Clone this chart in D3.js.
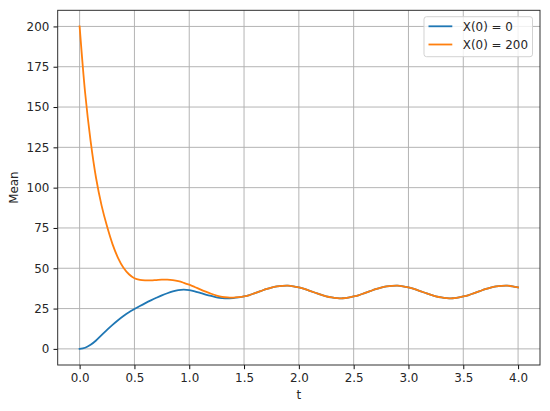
<!DOCTYPE html>
<html>
<head>
<meta charset="utf-8">
<script src="https://cdn.jsdelivr.net/npm/d3@7"></script>
<style>
html,body{margin:0;padding:0;background:#fff;}
text{font-family:"DejaVu Sans",sans-serif;}
</style>
</head>
<body>
<svg id="chart" width="550" height="411"></svg>
<script>
// time samples
const tValues = [0.00,0.05,0.10,0.15,0.20,0.25,0.30,0.35,0.40,0.45,
  0.50,0.55,0.60,0.65,0.70,0.75,0.80,0.85,0.90,0.95,
  1.00,1.05,1.10,1.15,1.20,1.25,1.30,1.35,1.40,1.45,
  1.50,1.55,1.60,1.65,1.70,1.75,1.80,1.85,1.90,1.95,
  2.00,2.05,2.10,2.15,2.20,2.25,2.30,2.35,2.40,2.45,
  2.50,2.55,2.60,2.65,2.70,2.75,2.80,2.85,2.90,2.95,
  3.00,3.05,3.10,3.15,3.20,3.25,3.30,3.35,3.40,3.45,
  3.50,3.55,3.60,3.65,3.70,3.75,3.80,3.85,3.90,3.95,4.00];
// Mean for X(0) = 0
const meanFrom0 = [0.0,0.7,2.5,5.2,8.5,11.8,14.9,17.8,20.4,22.7,
  24.7,26.6,28.4,30.1,31.7,33.2,34.5,35.6,36.4,36.7,
  36.4,35.7,34.7,33.7,32.8,32.0,31.5,31.3,31.5,31.9,
  32.5,33.4,34.6,35.8,37.0,38.0,38.7,39.1,39.2,38.8,
  38.1,37.2,36.0,34.8,33.6,32.6,31.9,31.5,31.4,31.8,
  32.5,33.4,34.6,35.8,37.0,38.0,38.7,39.1,39.2,38.8,
  38.1,37.2,36.0,34.8,33.6,32.6,31.9,31.5,31.4,31.8,
  32.5,33.4,34.6,35.8,37.0,38.0,38.7,39.1,39.2,38.8,38.1];
// Mean for X(0) = 200
const meanFrom200 = [200.0,159.0,129.0,106.0,89.0,76.0,65.0,56.5,50.3,46.3,
  43.8,42.8,42.5,42.5,42.7,42.9,42.9,42.6,42.0,41.0,
  39.8,38.4,36.9,35.5,34.2,33.1,32.3,31.9,31.8,32.1,
  32.6,33.4,34.6,35.8,37.0,38.0,38.7,39.1,39.2,38.8,
  38.1,37.2,36.0,34.8,33.6,32.6,31.9,31.5,31.4,31.8,
  32.5,33.4,34.6,35.8,37.0,38.0,38.7,39.1,39.2,38.8,
  38.1,37.2,36.0,34.8,33.6,32.6,31.9,31.5,31.4,31.8,
  32.5,33.4,34.6,35.8,37.0,38.0,38.7,39.1,39.2,38.8,38.1];
const seriesNames = ["X(0) = 0", "X(0) = 200"];
const seriesColors = ["#1f77b4", "#ff7f0e"];
const xTicks = [0.0,0.5,1.0,1.5,2.0,2.5,3.0,3.5,4.0];
const yTicks = [0,25,50,75,100,125,150,175,200];
const xLabel = "t";
const yLabel = "Mean";

const svg = d3.select("#chart");
const L = 57.7, R = 540, T = 10.3, B = 365;
const fs = 11.9;

const x = d3.scaleLinear().domain([-0.2, 4.2]).range([L, R]);
const y = d3.scaleLinear().domain([-10, 210]).range([B, T]);

// grid
const grid = svg.append("g");
grid.selectAll("line.gx").data(xTicks).enter().append("line")
  .attr("x1", d => x(d)).attr("x2", d => x(d)).attr("y1", T).attr("y2", B)
  .attr("stroke", "#b0b0b0").attr("stroke-width", 0.95);
grid.selectAll("line.gy").data(yTicks).enter().append("line")
  .attr("y1", d => y(d)).attr("y2", d => y(d)).attr("x1", L).attr("x2", R)
  .attr("stroke", "#b0b0b0").attr("stroke-width", 0.95);

// lines
const series = [meanFrom0, meanFrom200];
const line = d3.line().x(d => x(d[0])).y(d => y(d[1])).curve(d3.curveCatmullRom.alpha(0.5));
series.forEach((vals, i) => {
  svg.append("path")
    .datum(tValues.map((t, j) => [t, vals[j]]))
    .attr("fill", "none")
    .attr("stroke", seriesColors[i])
    .attr("stroke-width", 1.8)
    .attr("stroke-linejoin", "round")
    .attr("stroke-linecap", "square")
    .attr("d", line);
});

// axes
const xAxis = d3.axisBottom(x).tickValues(xTicks).tickFormat(d3.format(".1f"))
  .tickSizeInner(4.2).tickSizeOuter(0).tickPadding(4.2);
const yAxis = d3.axisLeft(y).tickValues(yTicks).tickFormat(d3.format("d"))
  .tickSizeInner(4.2).tickSizeOuter(0).tickPadding(4.2);
const gx = svg.append("g").attr("transform", `translate(0,${B})`).call(xAxis);
const gy = svg.append("g").attr("transform", `translate(${L},0)`).call(yAxis);
[gx, gy].forEach(g => {
  g.select(".domain").remove();
  g.selectAll(".tick line").attr("stroke", "#000").attr("stroke-width", 0.95);
  g.selectAll(".tick text").attr("fill", "#262626")
    .style("font-family", "DejaVu Sans").style("font-size", fs + "px");
});

// frame
svg.append("rect").attr("x", L).attr("y", T).attr("width", R - L).attr("height", B - T)
  .attr("fill", "none").attr("stroke", "#262626").attr("stroke-width", 0.95);

// axis labels
svg.append("text").attr("x", (L + R) / 2).attr("y", 399)
  .attr("text-anchor", "middle").attr("fill", "#262626")
  .style("font-size", fs + "px").text(xLabel);
svg.append("text")
  .attr("transform", `translate(18,${(T + B) / 2}) rotate(-90)`)
  .attr("text-anchor", "middle").attr("fill", "#262626")
  .style("font-size", fs + "px").text(yLabel);

// legend
const lg = svg.append("g");
lg.append("rect").attr("x", 424).attr("y", 16.7).attr("width", 108.5).attr("height", 40)
  .attr("rx", 2.5).attr("fill", "#fff").attr("fill-opacity", 0.8)
  .attr("stroke", "#d0d0d0").attr("stroke-width", 0.95);
seriesNames.forEach((name, i) => {
  const yy = 26.3 + i * 18.2;
  lg.append("line").attr("x1", 428.5).attr("x2", 452.3).attr("y1", yy).attr("y2", yy)
    .attr("stroke", seriesColors[i]).attr("stroke-width", 1.8);
  lg.append("text").attr("x", 462.8).attr("y", yy + 4.3).attr("fill", "#262626")
    .style("font-size", fs + "px").text(name);
});
</script>
</body>
</html>
